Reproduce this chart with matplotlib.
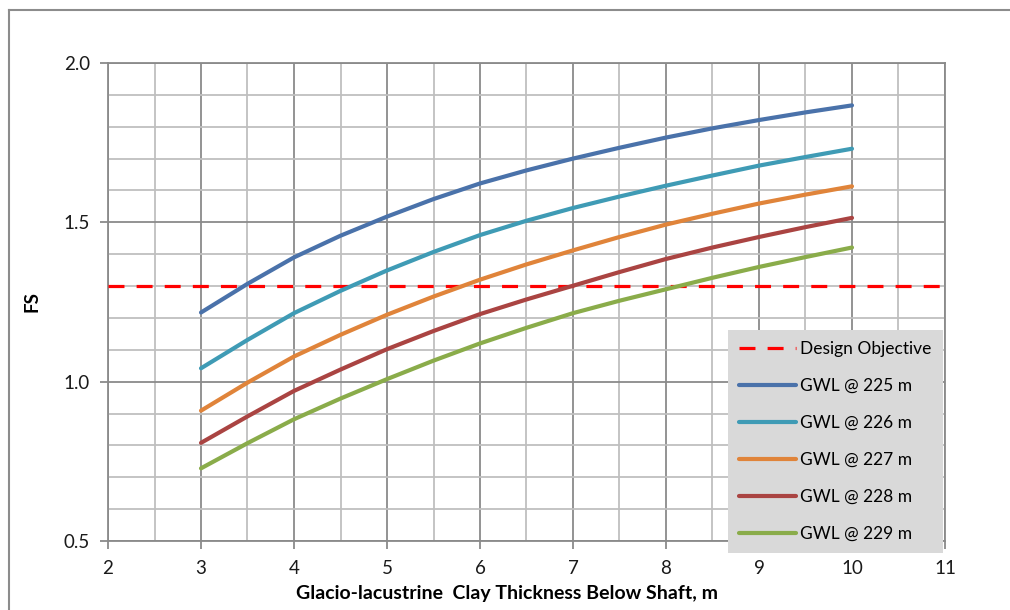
import matplotlib
matplotlib.use("Agg")
import matplotlib.pyplot as plt
from matplotlib.lines import Line2D
import numpy as np

plt.rcParams['font.family'] = ['Lato', 'DejaVu Sans']

# ---- data ----
thickness = [3.0, 3.5, 4.0, 4.5, 5.0, 5.5, 6.0, 6.5, 7.0, 7.5, 8.0, 8.5, 9.0, 9.5, 10.0]
gwl_225 = [1.217, 1.307, 1.390, 1.458, 1.518, 1.573, 1.622, 1.663, 1.700, 1.734, 1.766, 1.795, 1.821, 1.845, 1.867]
gwl_226 = [1.042, 1.131, 1.215, 1.285, 1.349, 1.407, 1.460, 1.505, 1.545, 1.581, 1.615, 1.647, 1.678, 1.705, 1.731]
gwl_227 = [0.909, 0.997, 1.079, 1.147, 1.210, 1.267, 1.320, 1.368, 1.412, 1.454, 1.493, 1.527, 1.559, 1.587, 1.613]
gwl_228 = [0.808, 0.891, 0.971, 1.038, 1.102, 1.159, 1.212, 1.258, 1.301, 1.344, 1.385, 1.421, 1.454, 1.485, 1.514]
gwl_229 = [0.728, 0.807, 0.882, 0.947, 1.008, 1.066, 1.120, 1.169, 1.215, 1.254, 1.290, 1.326, 1.360, 1.391, 1.421]
design_objective = 1.3
series_labels = ["GWL @ 225 m", "GWL @ 226 m", "GWL @ 227 m", "GWL @ 228 m", "GWL @ 229 m"]
series_colors = ["#4A72AA", "#3F9BB5", "#E0843A", "#AA4442", "#8AAC4A"]
xticks = [2, 3, 4, 5, 6, 7, 8, 9, 10, 11]
yticks = [0.5, 1.0, 1.5, 2.0]

W, H = 1010, 610
fig = plt.figure(figsize=(W / 100, H / 100), dpi=100)

# outer frame (extends past right/bottom edge)
fig.add_artist(Line2D([9 / W, 9 / W], [1 - 10 / H, -0.1], color="#8C8C8C", lw=1.5,
                      transform=fig.transFigure))
fig.add_artist(Line2D([9 / W, 1.1], [1 - 10 / H, 1 - 10 / H], color="#8C8C8C", lw=1.5,
                      transform=fig.transFigure))

ax = fig.add_axes([108 / W, 69 / H, 837 / W, 478 / H])
ax.set_xlim(2, 11)
ax.set_ylim(0.5, 2.0)

ax.set_xticks(xticks)
ax.set_xticklabels([str(t) for t in xticks])
ax.set_yticks(yticks)
ax.set_yticklabels([f"{t:.1f}" for t in yticks])
ax.set_xticks(np.arange(2, 11.01, 0.5), minor=True)
ax.set_yticks(np.arange(0.5, 2.001, 0.1), minor=True)

ax.grid(which="minor", color="#BFBFBF", lw=1.3, zorder=0)
ax.grid(which="major", color="#8A8A8A", lw=1.3, zorder=0)
ax.set_axisbelow(True)

for s in ax.spines.values():
    s.set_color("#8A8A8A")
    s.set_linewidth(1.3)

ax.tick_params(axis="both", which="major", direction="out", length=6, width=1.3,
               color="#8A8A8A", labelsize=13.5, labelcolor="#1a1a1a")
ax.tick_params(axis="y", which="major", pad=7)
ax.tick_params(axis="x", which="major", pad=8)
ax.tick_params(which="minor", length=0)

ax.axhline(design_objective, color="#FF0000", lw=2.3, dashes=(5, 3.8), label="Design Objective",
           zorder=3)
for vals, lab, col in zip([gwl_225, gwl_226, gwl_227, gwl_228, gwl_229], series_labels, series_colors):
    ax.plot(thickness, vals, color=col, lw=3, label=lab, solid_capstyle="round",
            solid_joinstyle="round", zorder=4)

ax.set_xlabel("Glacio-lacustrine  Clay Thickness Below Shaft, m", fontsize=14,
              fontweight="bold", va="center")
ax.xaxis.set_label_coords((507 - 108) / 837, (541 - 593) / 478)
ax.set_ylabel("FS", fontsize=13.5, fontweight="bold")
ax.yaxis.set_label_coords((40 - 108) / 837, 0.5)

leg = ax.legend(loc="upper left", bbox_to_anchor=(728 / W, 1 - 330 / H),
                bbox_transform=fig.transFigure, fontsize=12.5, frameon=True,
                fancybox=False, facecolor="#D9D9D9", edgecolor="#D9D9D9",
                framealpha=1, borderpad=0.62, labelspacing=1.21, handlelength=3.3,
                handletextpad=0.25, borderaxespad=0)
leg.get_frame().set_linewidth(0)

fig.savefig("out.png", dpi=100)
